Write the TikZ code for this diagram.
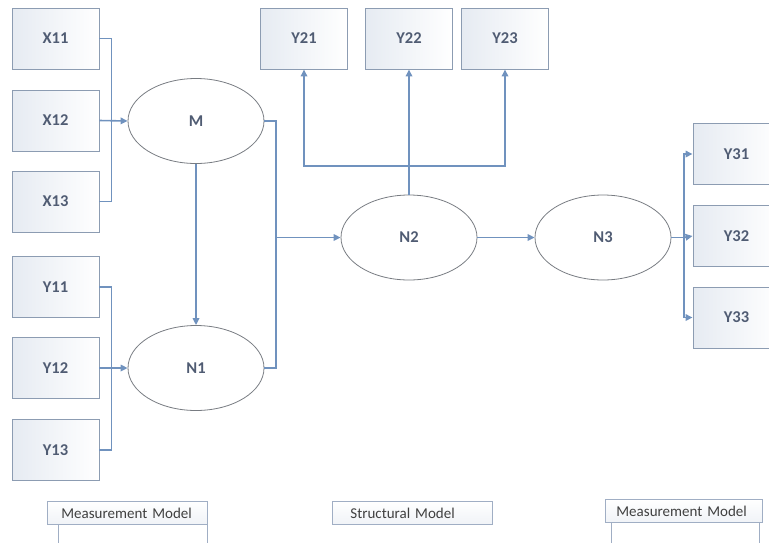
\documentclass[tikz,border=0pt]{standalone}
\usepackage{fontspec}
\setmainfont{Carlito}
\usetikzlibrary{arrows.meta,shapes.geometric,calc}
\definecolor{conn}{RGB}{112,146,190}
\definecolor{boxline}{RGB}{140,156,178}
\definecolor{boxfill}{RGB}{230,235,242}
\definecolor{ellline}{RGB}{120,124,130}
\definecolor{labtxt}{RGB}{80,92,115}
\definecolor{captxt}{RGB}{64,64,64}
\definecolor{capline}{RGB}{160,174,196}
\tikzset{
  ind/.style={rectangle, draw=boxline, line width=0.9pt, left color=boxfill, right color=white,
    minimum width=87pt, minimum height=61pt, inner sep=0pt,
    font=\fontsize{16.5}{19}\selectfont\bfseries, text=labtxt},
  lat/.style={ellipse, draw=ellline, line width=0.8pt, fill=white,
    minimum width=136pt, minimum height=85pt, inner sep=0pt,
    font=\fontsize{16.5}{19}\selectfont\bfseries, text=labtxt},
  cn/.style={draw=conn, line width=1.6pt},
  ca/.style={cn, -{Triangle[length=7pt,width=6.5pt]}},
  capbox/.style={rectangle, draw=capline, line width=0.8pt, top color=white, bottom color=boxfill!60,
    minimum height=23pt, inner ysep=0pt, align=left,
    font=\fontsize{15}{17}\selectfont, text=captxt},
  capleg/.style={draw=capline, line width=0.8pt}
}
\begin{document}
\begin{tikzpicture}[x=1pt,y=-1pt]
\useasboundingbox (0,0) rectangle (769,542);
\begin{scope}
\clip (0,0) rectangle (769,542);
% indicators left
\node[ind] (X11) at (55.5,38.5) {X11};
\node[ind] (X12) at (55.5,120.5) {X12};
\node[ind] (X13) at (55.5,201.5) {X13};
\node[ind] (Y11) at (55.5,287) {Y11};
\node[ind] (Y12) at (55.5,368) {Y12};
\node[ind] (Y13) at (55.5,450) {Y13};
% indicators top
\node[ind] (Y21) at (304,38.5) {Y21};
\node[ind] (Y22) at (409,38.5) {Y22};
\node[ind] (Y23) at (505,38.5) {Y23};
% indicators right
\node[ind] (Y31) at (736.5,154) {Y31};
\node[ind] (Y32) at (736.5,236) {Y32};
\node[ind] (Y33) at (736.5,317.5) {Y33};
% latent variables
\node[lat] (M) at (196,121) {M};
\node[lat] (N1) at (196,368) {N1};
\node[lat] (N2) at (409,237.5) {N2};
\node[lat] (N3) at (603,237.5) {N3};
% helper coordinates
\coordinate (j) at (276,237.5);
\coordinate (t) at (409,166);
\coordinate (r) at (684,237.5);
% left measurement connectors
\draw[cn] (X11.east) -- ++(12,0) |- (X13.east);
\draw[ca] (X12.east) -- (M.west);
\draw[cn] (Y11.east) -- ++(12,0) |- (Y13.east);
\draw[ca] (Y12.east) -- (N1.west);
% structural
\draw[ca] (M.south) -- (N1.north);
\draw[cn] (M.east) -| (j);
\draw[cn] (N1.east) -| (j);
\draw[ca] (j) -- (N2.west);
\draw[ca] (N2.north) -- (Y22.south);
\draw[ca] (t) -| (Y21.south);
\draw[ca] (t) -| (Y23.south);
\draw[ca] (N2.east) -- (N3.west);
\draw[cn] (N3.east) -- (r);
\draw[ca] (r) |- (Y31.west);
\draw[ca] (r) -- (Y32.west);
\draw[ca] (r) |- (Y33.west);
% captions
\node[capbox, minimum width=160pt, inner xsep=14pt, text width=132pt, anchor=north west] (C1) at (47,501) {Measurement Model};
\node[capbox, minimum width=160pt, inner xsep=18pt, text width=124pt, anchor=north west] (C2) at (332,501) {Structural Model};
\node[capbox, minimum width=157pt, inner xsep=11pt, text width=135pt, anchor=north west] (C3) at (605,499) {Measurement Model};
\draw[capleg] ($(C1.south west)+(11,0)$) -- ++(0,20);
\draw[capleg] (C1.south east) -- ++(0,20);
\draw[capleg] ($(C3.south west)+(6,0)$) -- ++(0,22);
\draw[capleg] ($(C3.south east)+(-3,0)$) -- ++(0,22);
\end{scope}
\end{tikzpicture}
\end{document}
